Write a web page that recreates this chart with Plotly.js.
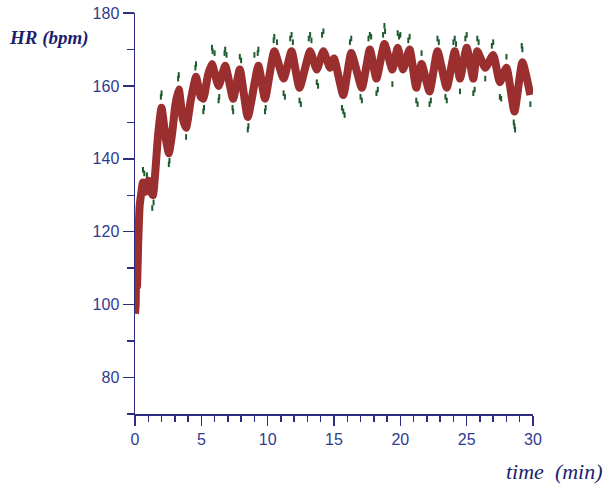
<!DOCTYPE html>
<html>
<head>
<meta charset="utf-8">
<script src="https://cdn.plot.ly/plotly-3.0.1.min.js"></script>
<style>html,body{margin:0;padding:0;background:#fff}#chart{width:607px;height:487px}</style>
</head>
<body>
<div id="chart"></div>
<script>
// smoothed heart rate: time (min) and HR (bpm)
var timeMin = [0,0.05,0.1,0.15,0.25,0.35,0.45,0.6,0.8,1.0,1.2,1.35,1.5,1.75,2.0,2.3,2.55,2.8,3.05,3.3,3.6,3.85,4.2,4.6,4.95,5.15,5.5,5.8,6.3,6.8,7.4,7.9,8.5,9.3,9.8,10.5,11.2,11.8,12.4,13.2,13.7,14.2,14.7,15.0,15.7,16.3,17.1,17.7,18.2,18.8,19.4,19.8,20.2,20.7,21.2,21.6,22.2,22.8,23.5,24.1,24.5,25.0,25.5,25.8,26.4,27.0,27.5,28.0,28.6,29.2,29.8];
var hrSmooth = [97.5,100,112,105,118,127,130,133.5,131,134,131,130,135,147,154,146,141.5,147,155,159,151,148.5,156,162.5,157,156.5,163,166,160,165.5,156.5,164.5,151.5,165.5,156.5,169.5,162,169.5,159.5,169.5,164.5,169.5,165,167.5,157.5,169,159.5,170,162,171.5,164.5,170.5,164.5,170,159.5,166,158.5,169.5,159.5,169.5,162,170.5,162,169.5,165,168.5,161,165,153,166.5,157.5];
// raw beat-to-beat samples visible outside the smoothed band
var rawTime = [0.6,0.7,0.9,1.3,1.4,2.0,1.95,2.55,2.6,3.3,3.25,3.85,4.6,4.55,5.15,5.2,5.8,5.85,6.0,6.3,6.35,6.8,6.75,6.9,7.4,7.35,7.9,8.0,8.5,8.55,9.3,9.25,9.0,9.8,9.85,10.5,10.45,10.7,11.2,11.3,11.8,11.7,11.9,12.4,12.5,13.2,13.1,13.3,13.7,13.8,14.2,14.1,15.7,15.6,15.8,16.3,16.2,17.1,17.0,17.7,17.6,17.8,18.2,18.3,18.8,18.85,18.7,19.4,19.8,19.9,20.0,20.7,20.6,21.2,21.3,21.6,22.2,22.3,22.8,22.9,23.5,23.4,24.1,24.0,24.2,24.5,25.0,24.9,25.5,25.6,25.8,25.9,26.4,27.0,26.9,27.5,27.6,28.0,28.6,28.55,28.65,29.2,29.15,29.8];
var rawHR = [137,136,135.5,126.5,128,158,157,138.5,139.5,163,162,146,166,165,153,154,170.5,169.5,169,156,157,170,169,168.5,153,154,168,167,148,149,170,169,168.5,153,154,173.5,172.5,172,158,157,174,173,172,156,155,174,173,172.5,161,160,175,174,153,154,152,173,172,156,157,174,173,173.5,158,159,176.5,175,174,160.5,174.5,173.5,174,173.5,172.5,156,155,169,155,156,173,172,156,157,173,172,171.5,158.5,174,173,158,159,173,172,162,172,171,157,156.5,168,149,150,148,170,171,155];
var yTickVals = [80,100,120,140,160,180];
var yTickText = ['80','100','120','140','160','180'];
var xTickVals = [0,5,10,15,20,25,30];
var xTickText = ['0','5','10','15','20','25','30'];

var axisColor = '#2e2e80';
var labelColor = '#2f3b8e';

var traces = [
  {x: rawTime, y: rawHR, type: 'scatter', mode: 'markers',
   marker: {color: '#1d5a2e', size: 4, symbol: 'line-ns', line: {width: 2, color: '#1d5a2e'}}, hoverinfo: 'skip'},
  {x: timeMin, y: hrSmooth, type: 'scatter', mode: 'lines',
   line: {color: '#9b2f2f', width: 8, shape: 'spline', smoothing: 0.5}, hoverinfo: 'skip'}
];

var layout = {
  width: 607, height: 487,
  margin: {l: 135, r: 74, t: 13, b: 72.5, pad: 0},
  paper_bgcolor: '#fff', plot_bgcolor: '#fff',
  showlegend: false,
  xaxis: {
    range: [0, 30], showgrid: false, zeroline: false,
    showline: true, linecolor: axisColor, linewidth: 1.5,
    ticks: 'outside', ticklen: 10, tickwidth: 1.5, tickcolor: axisColor,
    tickmode: 'array', tickvals: xTickVals, ticktext: xTickText,
    minor: {dtick: 1, tick0: 0, ticks: 'outside', ticklen: 6, tickwidth: 1.5, tickcolor: axisColor},
    tickfont: {family: 'Liberation Sans, Arial, sans-serif', size: 16, color: labelColor}
  },
  yaxis: {
    range: [70, 180], showgrid: false, zeroline: false,
    showline: true, linecolor: axisColor, linewidth: 1.5,
    ticks: 'outside', ticklen: 11, tickwidth: 1.5, tickcolor: axisColor,
    tickmode: 'array', tickvals: yTickVals, ticktext: yTickText,
    minor: {dtick: 10, tick0: 70, ticks: 'outside', ticklen: 7, tickwidth: 1.5, tickcolor: axisColor},
    tickfont: {family: 'Liberation Sans, Arial, sans-serif', size: 16, color: labelColor}
  },
  annotations: [
    {text: '<b><i>HR (bpm)</i></b>', xref: 'paper', yref: 'paper',
     x: -0.215, y: 0.9377, xanchor: 'center', yanchor: 'middle', showarrow: false,
     font: {family: 'Liberation Serif, Times New Roman, serif', size: 19, color: '#1c1f6e'}},
    {text: '<i>time  (min)</i>', xref: 'paper', yref: 'paper',
     x: 1.0528, y: -0.1432, xanchor: 'center', yanchor: 'middle', showarrow: false,
     font: {family: 'Liberation Serif, Times New Roman, serif', size: 22, color: '#1c1f6e'}}
  ]
};

Plotly.newPlot('chart', traces, layout, {staticPlot: true, displayModeBar: false});
</script>
</body>
</html>
